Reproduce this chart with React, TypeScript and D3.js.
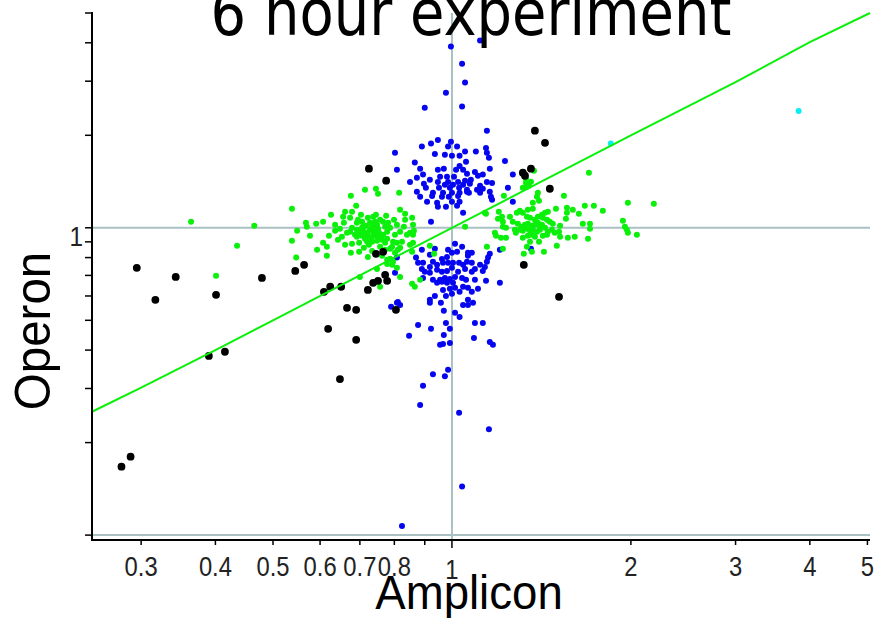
import React from "react";
import * as d3 from "d3";

// ---- data (Amplicon ratio, Operon ratio) ----
const bluePoints: [number, number][] = [
  [0.996,3.89],[1.115,4.07],[1.04,3.42],[1.052,2.97],[0.977,2.75],[0.90,2.46],[1.04,2.48],[1.145,2.07],[0.947,1.93],[0.996,1.906],
  [0.922,1.88],[0.89,1.84],[0.985,1.84],[1.02,1.84],[1.141,1.82],[0.802,1.755],[0.936,1.74],[0.973,1.73],[1.0,1.716],[1.03,1.716],
  [1.052,1.77],[1.097,1.77],[1.145,1.755],[1.154,1.69],[1.228,1.65],[1.056,1.64],[0.866,1.63],[1.03,1.59],[0.808,1.545],[0.884,1.557],
  [0.947,1.545],[0.969,1.557],[1.016,1.545],[1.044,1.545],[1.158,1.557],[1.093,1.52],[1.127,1.49],[1.266,1.49],[0.894,1.49],[0.955,1.466],
  [0.981,1.466],[1.008,1.466],[1.06,1.50],[1.106,1.477],[0.873,1.455],[0.85,1.41],[0.918,1.433],[0.947,1.41],[0.985,1.41],[1.024,1.41],
  [1.052,1.423],[1.076,1.433],[1.145,1.41],[1.168,1.40],[0.897,1.39],[0.973,1.38],[1.004,1.38],[1.044,1.38],[1.072,1.39],[1.115,1.37],
  [0.904,1.35],[0.951,1.35],[0.992,1.35],[1.028,1.35],[1.06,1.33],[1.102,1.33],[1.127,1.34],[1.158,1.31],[1.242,1.35],[0.873,1.31],
  [0.929,1.30],[0.966,1.30],[1.0,1.30],[1.03,1.30],[1.068,1.30],[1.115,1.30],[0.884,1.262],[0.926,1.27],[0.962,1.262],[0.988,1.262],
  [1.024,1.27],[1.06,1.31],[1.163,1.262],[1.168,1.234],[0.908,1.215],[0.944,1.206],[1.0,1.215],[1.03,1.215],[1.266,1.215],[0.947,1.17],
  [0.977,1.17],[1.02,1.18],[1.044,1.119],[0.922,1.046],
  [1.012,0.887],[1.04,0.867],[0.936,0.854],[0.89,0.848],[0.985,0.848],[1.0,0.829],[1.02,0.835],[1.064,0.829],[1.08,0.829],[1.158,0.823],
  [1.204,0.848],[1.358,0.854],[0.87,0.80],[0.918,0.817],[0.962,0.792],[0.981,0.804],[1.064,0.811],[1.06,0.775],[1.15,0.80],[0.877,0.769],
  [0.894,0.769],[0.929,0.775],[0.918,0.746],[0.944,0.758],[0.966,0.769],[0.985,0.769],[1.004,0.769],[1.028,0.769],[1.044,0.758],[1.08,0.769],
  [1.115,0.758],[1.145,0.775],[1.136,0.746],[1.127,0.724],[0.89,0.735],[0.90,0.719],[0.918,0.714],[0.944,0.73],[0.962,0.719],[0.981,0.724],
  [1.0,0.741],[1.024,0.719],[1.052,0.735],[1.08,0.719],[1.093,0.735],[0.894,0.687],[0.929,0.677],[0.955,0.677],[0.973,0.687],[0.992,0.682],
  [1.012,0.692],[1.04,0.687],[1.056,0.677],[1.093,0.677],[1.141,0.672],[1.204,0.662],[0.944,0.662],[0.981,0.662],[1.004,0.662],[0.962,0.667],
  [0.966,0.628],[0.992,0.633],[1.012,0.638],[1.03,0.619],[1.044,0.643],[1.064,0.638],[1.08,0.619],[1.106,0.633],[0.977,0.60],[1.0,0.61],
  [0.936,0.60],[0.918,0.583],[0.918,0.57],[0.958,0.57],[1.064,0.583],[1.085,0.57],[1.044,0.561],[1.064,0.561],[0.811,0.574],[0.818,0.561],
  [0.79,0.553],[0.969,0.537],[1.012,0.529],[1.03,0.513],[0.977,0.49],[1.093,0.49],[1.127,0.49],[0.877,0.483],[0.922,0.469],[0.992,0.469],
  [0.847,0.445],[0.969,0.448],[1.089,0.438],[1.158,0.425],[1.172,0.416],[0.955,0.416],[0.966,0.419],[0.992,0.422],[0.985,0.345],[0.929,0.334],
  [0.973,0.329],[0.894,0.306],[0.884,0.265],[1.028,0.25],[1.154,0.221],[1.04,0.144],[0.824,0.107],[0.808,0.80],[0.802,0.714],[0.808,0.57],
];

const greenPoints: [number, number][] = [
  [0.364,1.046],[0.465,1.015],[0.435,0.874],[0.401,0.698],[0.538,1.153],[0.549,0.978],[0.538,0.907],[0.547,0.80],[0.568,1.038],[0.570,1.008],
  [0.591,1.03],[0.607,1.046],[0.577,0.942],[0.593,0.848],[0.607,0.894],[0.616,0.867],[0.616,0.811],[0.626,1.102],[0.636,1.023],[0.636,0.978],
  [0.621,0.942],[0.643,0.914],[0.653,0.935],[0.656,1.086],[0.661,1.128],[0.679,1.128],[0.676,1.271],[0.69,1.179],[0.714,1.33],[0.745,1.34],
  [0.751,1.291],[0.815,1.30],[0.658,1.038],[0.666,0.963],[0.674,0.971],[0.679,0.887],[0.676,0.829],[0.698,0.835],[0.692,1.038],[0.695,1.062],
  [0.706,1.046],[0.709,1.008],[0.692,0.985],[0.70,0.963],[0.706,1.0],[0.692,0.935],[0.706,0.942],[0.714,0.921],[0.72,0.963],[0.722,1.078],
  [0.728,1.038],[0.734,1.008],[0.737,1.086],[0.742,1.046],[0.748,1.023],[0.751,0.993],[0.757,1.062],[0.728,0.985],[0.737,0.963],[0.742,0.942],
  [0.748,0.963],[0.757,0.935],[0.72,0.90],[0.734,0.90],[0.748,0.907],[0.763,0.914],[0.778,0.921],[0.766,1.046],[0.772,1.008],[0.778,0.971],
  [0.787,1.0],[0.781,1.038],[0.802,0.949],[0.808,1.023],[0.818,0.971],[0.83,1.008],[0.834,1.062],[0.857,1.078],[0.86,1.023],[0.863,0.978],
  [0.86,0.949],[0.85,0.963],[0.796,0.90],[0.793,0.867],[0.808,0.894],[0.824,0.90],[0.84,0.949],[0.757,0.867],[0.772,0.848],[0.787,0.854],
  [0.802,0.829],[0.811,0.848],[0.818,0.861],[0.85,0.88],[0.86,0.894],[0.857,0.835],[0.763,0.811],[0.778,0.787],[0.787,0.793],[0.778,0.763],
  [0.796,0.775],[0.748,0.735],[0.793,0.758],[0.808,0.741],[0.818,0.692],[0.857,0.657],[0.866,0.643],[0.884,0.677],[0.918,0.874],[0.933,0.823],
  [0.70,0.692],[0.722,0.804],[0.757,0.643],[1.052,1.008],
  [0.679,1.0],[0.687,0.949],[0.711,0.971],[0.722,0.942],[0.731,0.928],[0.74,0.985],[0.717,1.015],[0.754,0.963],[0.766,0.949],[0.772,0.894],
  [0.725,0.88],[0.698,0.894],[0.745,1.102],[0.775,1.094],[0.799,1.062],[0.818,1.145],[0.834,1.111],[0.703,1.102],[0.674,1.078],[0.648,0.993],
  [0.661,0.88],[0.711,0.861],[0.734,0.841],
  [1.70,1.51],[1.374,1.534],[1.332,1.401],[1.358,1.412],[1.337,1.36],[1.316,1.35],[1.347,1.371],[1.395,1.30],[1.39,1.262],[1.401,1.224],
  [1.223,1.271],[1.543,1.271],[1.368,1.206],[1.141,1.111],[1.199,1.128],[1.214,1.086],[1.195,1.07],[1.252,1.086],[1.218,1.046],[1.286,1.119],
  [1.301,1.136],[1.316,1.119],[1.342,1.145],[1.368,1.153],[1.337,1.086],[1.353,1.078],[1.395,1.086],[1.417,1.102],[1.434,1.119],[1.45,1.128],
  [1.422,1.078],[1.445,1.062],[1.496,1.153],[1.561,1.162],[1.561,1.119],[1.597,1.145],[1.635,1.111],[1.673,1.179],[1.733,1.179],[1.794,1.136],
  [1.977,1.206],[2.186,1.197],[1.939,1.054],[1.954,1.008],[1.969,0.985],[1.977,0.963],[2.047,0.949],[1.66,1.03],[1.707,1.03],[1.707,0.993],
  [1.291,1.03],[1.311,1.008],[1.327,1.023],[1.342,1.03],[1.363,1.015],[1.379,1.023],[1.395,1.038],[1.417,1.023],[1.301,0.985],[1.316,0.978],
  [1.337,0.993],[1.353,0.978],[1.368,0.985],[1.39,0.971],[1.406,0.985],[1.434,1.0],[1.461,1.046],[1.478,1.03],[1.473,0.985],[1.489,0.963],
  [1.218,1.008],[1.233,1.0],[1.181,0.963],[1.186,0.942],[1.233,0.928],[1.281,0.963],[1.316,0.928],[1.342,0.942],[1.363,0.949],[1.379,0.935],
  [1.422,0.942],[1.445,0.949],[1.514,0.971],[1.52,0.935],[1.567,0.928],[1.609,0.935],[1.694,0.921],[1.353,0.90],[1.401,0.90],[1.501,0.874],
  [1.337,0.867],[1.218,0.854],[1.428,0.835],[1.321,0.823],[1.363,0.835],[1.209,0.928],[1.145,0.867],[1.136,1.119],[1.332,1.444],[1.379,1.062],
  [1.406,1.008],[1.45,0.971],[1.266,1.046],[1.276,0.985],[1.555,1.07],[1.52,1.015],
];

const blackPoints: [number, number][] = [
  [0.295,0.741],[0.343,0.692],[0.317,0.583],[0.401,0.605],[0.479,0.687],[0.545,0.724],[0.564,0.758],[0.39,0.383],[0.415,0.395],[0.288,0.18],
  [0.278,0.167],[0.609,0.619],[0.624,0.643],[0.651,0.643],[0.666,0.549],[0.69,0.541],[0.722,0.628],[0.737,0.662],[0.751,0.672],[0.772,0.703],
  [0.778,0.672],[0.745,0.823],[0.766,0.835],[0.805,0.541],[0.619,0.469],[0.69,0.432],[0.648,0.322],[0.725,1.557],[0.775,1.423],[1.379,2.07],
  [1.434,1.89],[1.316,1.511],[1.327,1.477],[1.358,1.557],[1.461,1.34],[1.321,0.758],[1.514,0.596],
];

const cyanPoints: [number, number][] = [[3.83,2.40],[1.85,1.88]];

const fitAmplicon = [0.248, 0.3, 0.4, 0.5, 0.7, 1.0, 1.4, 2.0, 3.0, 4.0, 5.05];
const fitOperon = [0.252, 0.302, 0.40, 0.50, 0.70, 1.0, 1.40, 2.0, 2.98, 4.02, 5.0];

const xTickValues = [0.3, 0.4, 0.5, 0.6, 0.7, 0.8, 0.9, 1, 2, 3, 4, 5];
const xTickLabels = ["0.3", "0.4", "0.5", "0.6", "0.7", "0.8", "", "1", "2", "3", "4", "5"];
const yTickValues = [0.1, 0.2, 0.3, 0.4, 0.5, 0.6, 0.7, 0.8, 0.9, 1, 2, 3, 4, 5];
const yTickLabels = ["", "", "", "", "", "", "", "", "", "1", "", "", "", ""];
const refLinesX = [1];
const refLinesY = [1, 0.1];

const titleText = "6 hour experiment";
const xLabel = "Amplicon";
const yLabel = "Operon";

const GRID = "#a9c1c2";
const SANS = "'Liberation Sans', Arial, sans-serif";

export default function App() {
  const x = d3.scaleLog().domain([0.248, 5.05]).range([92, 870]);
  const y = d3.scaleLog().domain([0.0964, 5.0]).range([540, 13]);
  const fitLine = d3
    .line<number>()
    .x((d) => x(d))
    .y((_, i) => y(fitOperon[i]));

  return (
    <svg
      width={876}
      height={618}
      style={{ position: "absolute", left: 0, top: 0, background: "#fff" }}
    >
      <rect x={0} y={0} width={876} height={618} fill="#fff" />
      {/* reference lines */}
      {refLinesX.map((v) => (
        <line key={"rx" + v} x1={x(v)} x2={x(v)} y1={y.range()[1]} y2={y.range()[0]} stroke={GRID} strokeWidth={2} />
      ))}
      {refLinesY.map((v) => (
        <line key={"ry" + v} x1={x.range()[0]} x2={x.range()[1]} y1={y(v)} y2={y(v)} stroke={GRID} strokeWidth={2} />
      ))}

      {/* points */}
      {bluePoints.map((d, i) => (
        <circle key={"b" + i} cx={x(d[0])} cy={y(d[1])} r={3} fill="#0505f0" />
      ))}
      {greenPoints.map((d, i) => (
        <circle key={"g" + i} cx={x(d[0])} cy={y(d[1])} r={3} fill="#0af00a" />
      ))}
      {blackPoints.map((d, i) => (
        <circle key={"k" + i} cx={x(d[0])} cy={y(d[1])} r={3.9} fill="#000" />
      ))}
      {cyanPoints.map((d, i) => (
        <circle key={"c" + i} cx={x(d[0])} cy={y(d[1])} r={3} fill="#0aeef0" />
      ))}

      {/* fit line */}
      <path d={fitLine(fitAmplicon) || ""} fill="none" stroke="#0af00a" strokeWidth={2} />

      {/* axes */}
      <line x1={92} x2={92} y1={12} y2={541} stroke="#000" strokeWidth={2} />
      <line x1={91} x2={870} y1={540} y2={540} stroke="#000" strokeWidth={2} />
      {yTickValues.map((v, i) => (
        <g key={"yt" + i}>
          <line x1={85} x2={92} y1={y(v)} y2={y(v)} stroke="#000" strokeWidth={1.5} />
          {yTickLabels[i] && (
            <text
              transform={`translate(${83},${y(v) + 18}) scale(0.9,1)`}
              textAnchor="end"
              fontFamily={SANS}
              fontSize={27}
              fill="#222"
            >
              {yTickLabels[i]}
            </text>
          )}
        </g>
      ))}
      {xTickValues.map((v, i) => (
        <g key={"xt" + i}>
          <line x1={x(v)} x2={x(v)} y1={540} y2={v === 1 ? 548 : 545} stroke="#000" strokeWidth={1.5} />
          {xTickLabels[i] && (
            <text
              transform={`translate(${x(v)},${v === 1 ? 579 : 576}) scale(0.85,1)`}
              textAnchor="middle"
              fontFamily={SANS}
              fontSize={28}
              fill="#222"
            >
              {xTickLabels[i]}
            </text>
          )}
        </g>
      ))}

      {/* labels */}
      <text
        transform={`translate(${469},${609}) scale(0.95,1)`}
        textAnchor="middle"
        fontFamily={SANS}
        fontSize={48}
        fill="#000"
      >
        {xLabel}
      </text>
      <text
        transform={`translate(${50},${331}) rotate(-90) scale(0.95,1)`}
        textAnchor="middle"
        fontFamily={SANS}
        fontSize={50}
        fill="#000"
      >
        {yLabel}
      </text>
      <text
        transform={`translate(${471},${35}) scale(1,1.15)`}
        textAnchor="middle"
        fontFamily="'DejaVu Sans', sans-serif"
        fontSize={56}
        fill="#000"
      >
        {titleText}
      </text>
    </svg>
  );
}
